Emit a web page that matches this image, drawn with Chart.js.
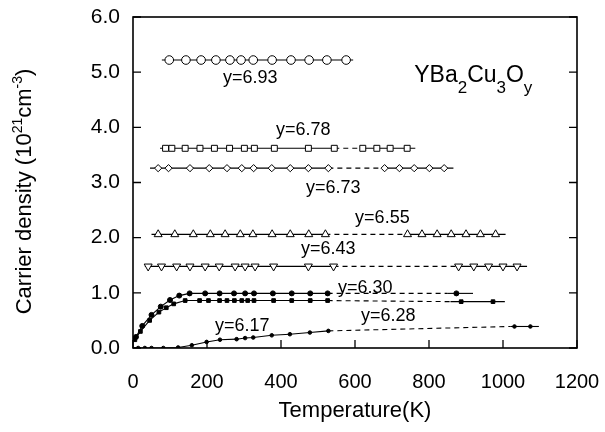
<!DOCTYPE html>
<html>
<head>
<meta charset="utf-8">
<script src="https://cdn.jsdelivr.net/npm/chart.js@4.4.0/dist/chart.umd.min.js"></script>
<style>
  html, body { margin: 0; padding: 0; background: #fff; }
</style>
</head>
<body>
<canvas id="chart" width="605" height="432"></canvas>
<script>
const FONT = '"Liberation Sans", Arial, Helvetica, sans-serif';

// x ticks (K) and y ticks (10^21 cm^-3)
const xTicks = [0, 200, 400, 600, 800, 1000, 1200];
const yTicks = [0, 1, 2, 3, 4, 5, 6];

// y=6.93
const temps693 = [98, 143, 184, 224, 262, 292, 325, 376, 427, 476, 524, 576];
const dens693  = [5.22, 5.22, 5.22, 5.22, 5.22, 5.22, 5.22, 5.22, 5.22, 5.22, 5.22, 5.22];
const span693  = [78, 595];

// y=6.78
const temps678   = [88, 105, 141, 181, 220, 261, 301, 328, 382, 474, 544];
const dens678    = [3.62, 3.62, 3.62, 3.62, 3.62, 3.62, 3.62, 3.62, 3.62, 3.62, 3.62];
const tempsHi678 = [621, 659, 695, 741];
const densHi678  = [3.62, 3.62, 3.62, 3.62];
const span678    = [73, 544, 621, 763];

// y=6.73
const temps673   = [68, 96, 154, 206, 254, 294, 326, 375, 425, 474, 528];
const dens673    = [3.26, 3.26, 3.26, 3.26, 3.26, 3.26, 3.26, 3.26, 3.26, 3.26, 3.26];
const tempsHi673 = [680, 720, 760, 801, 841];
const densHi673  = [3.26, 3.26, 3.26, 3.26, 3.26];
const span673    = [46, 528, 680, 866];

// y=6.55
const temps655   = [68, 113, 163, 209, 249, 290, 324, 376, 425, 475, 520];
const dens655    = [2.06, 2.06, 2.06, 2.06, 2.06, 2.06, 2.06, 2.06, 2.06, 2.06, 2.06];
const tempsHi655 = [742, 781, 822, 860, 900, 939, 980];
const densHi655  = [2.06, 2.06, 2.06, 2.06, 2.06, 2.06, 2.06];
const span655    = [50, 520, 742, 1007];

// y=6.43
const temps643   = [41, 77, 118, 154, 195, 233, 276, 303, 330, 380, 474, 542];
const dens643    = [1.48, 1.48, 1.48, 1.48, 1.48, 1.48, 1.48, 1.48, 1.48, 1.48, 1.48, 1.48];
const tempsHi643 = [880, 921, 961, 1000, 1038];
const densHi643  = [1.48, 1.48, 1.48, 1.48, 1.48];
const span643    = [32, 542, 880, 1065];

// y=6.30
const temps630   = [8, 25, 50, 75, 100, 125, 153, 195, 234, 273, 303, 327, 378, 429, 479, 526];
const dens630    = [0.2, 0.4, 0.6, 0.75, 0.87, 0.95, 0.99, 0.99, 0.99, 0.99, 0.99, 0.99, 0.99, 0.99, 0.99, 0.99];
const tempsHi630 = [874];
const densHi630  = [0.99];
const span630    = [0, 526, 849, 919];

// y=6.28
const temps628   = [5, 20, 45, 70, 90, 110, 141, 180, 204, 234, 254, 274, 294, 310, 327, 380, 429, 479, 526];
const dens628    = [0.15, 0.3, 0.5, 0.65, 0.73, 0.8, 0.86, 0.86, 0.86, 0.86, 0.86, 0.86, 0.86, 0.86, 0.86, 0.86, 0.86, 0.86, 0.86];
const tempsHi628 = [887, 973];
const densHi628  = [0.84, 0.84];
const span628    = [0, 526, 858, 1005];

// y=6.17
const temps617   = [14, 32, 50, 82, 122, 159, 199, 235, 280, 303, 325, 375, 424, 478, 528];
const dens617    = [0, 0, 0, 0, 0.01, 0.05, 0.11, 0.15, 0.16, 0.18, 0.19, 0.23, 0.25, 0.28, 0.31];
const tempsHi617 = [1031, 1074];
const densHi617  = [0.39, 0.39];
const span617    = [0, 528, 1021, 1097];

// in-plot labels (placed in data coordinates)
const labelText = ['y=6.93', 'y=6.78', 'y=6.73', 'y=6.55', 'y=6.43', 'y=6.30', 'y=6.28', 'y=6.17'];
const labelT    = [317, 460, 541, 674, 528, 628, 690, 295];
const labelN    = [4.90, 3.95, 2.90, 2.36, 1.80, 1.09, 0.58, 0.40];

// builds line points: start of line, markers, (dashed gap), high-T markers, end of line
function buildPoints(t, n, tHi, nHi, span) {
  const pts = [{ x: span[0], y: n[0], m: false }];
  t.forEach((x, i) => pts.push({ x: x, y: n[i], m: true }));
  let gap = -1;
  if (tHi) {
    pts.push({ x: span[1], y: n[n.length - 1], m: false });
    gap = pts.length - 1;
    pts.push({ x: span[2], y: nHi[0], m: false });
    tHi.forEach((x, i) => pts.push({ x: x, y: nHi[i], m: true }));
    pts.push({ x: span[3], y: nHi[nHi.length - 1], m: false });
  } else {
    pts.push({ x: span[1], y: n[n.length - 1], m: false });
  }
  return { pts, gap };
}

function makeSet(t, n, tHi, nHi, span, style, r, fill, rot) {
  const b = buildPoints(t, n, tHi, nHi, span);
  return {
    data: b.pts,
    showLine: true,
    borderColor: '#000',
    borderWidth: 1.1,
    pointStyle: style,
    pointRotation: rot || 0,
    pointRadius: ctx => (ctx.raw && ctx.raw.m ? r : 0),
    pointBorderWidth: 1,
    pointBorderColor: '#000',
    pointBackgroundColor: fill,
    segment: {
      borderDash: ctx => (ctx.p0DataIndex === b.gap ? [5, 4] : undefined)
    }
  };
}

const datasets = [
  makeSet(temps693, dens693, null, null, span693, 'circle', 4.3, '#fff'),
  makeSet(temps678, dens678, tempsHi678, densHi678, span678, 'rect', 4.2, '#fff'),
  makeSet(temps673, dens673, tempsHi673, densHi673, span673, 'rectRot', 3.6, '#fff'),
  makeSet(temps655, dens655, tempsHi655, densHi655, span655, 'triangle', 4.6, '#fff'),
  makeSet(temps643, dens643, tempsHi643, densHi643, span643, 'triangle', 4.6, '#fff', 180),
  makeSet(temps630, dens630, tempsHi630, densHi630, span630, 'circle', 2.5, '#000'),
  makeSet(temps628, dens628, tempsHi628, densHi628, span628, 'rect', 2.6, '#000'),
  makeSet(temps617, dens617, tempsHi617, densHi617, span617, 'circle', 1.8, '#000')
];

// draws rich text: parts = [[text, size, dy]]
function richText(c, parts, x, y) {
  let cx = x;
  parts.forEach(p => {
    c.font = p[1] + 'px ' + FONT;
    c.fillText(p[0], cx, y + p[2]);
    cx += c.measureText(p[0]).width;
  });
}

const framePlugin = {
  id: 'frame',
  afterDraw(chart) {
    const c = chart.ctx, a = chart.chartArea;
    const xs = chart.scales.x, ys = chart.scales.y;
    c.save();
    c.strokeStyle = '#000';
    c.lineWidth = 1.6;
    c.strokeRect(a.left, a.top, a.right - a.left, a.bottom - a.top);
    c.lineWidth = 1.3;
    c.beginPath();
    xTicks.forEach(v => {
      const px = xs.getPixelForValue(v);
      c.moveTo(px, a.bottom); c.lineTo(px, a.bottom - 8);
    });
    yTicks.forEach(v => {
      const py = ys.getPixelForValue(v);
      c.moveTo(a.left, py); c.lineTo(a.left + 8, py);
      c.moveTo(a.right, py); c.lineTo(a.right - 8, py);
    });
    c.stroke();

    // series labels
    c.fillStyle = '#000';
    c.font = '18px ' + FONT;
    c.textAlign = 'center';
    c.textBaseline = 'middle';
    labelText.forEach((s, i) => {
      c.fillText(s, xs.getPixelForValue(labelT[i]), ys.getPixelForValue(labelN[i]));
    });

    // compound name
    c.textAlign = 'left';
    c.textBaseline = 'alphabetic';
    richText(c, [['YBa', 23, 0], ['2', 17, 11], ['Cu', 23, 0], ['3', 17, 11], ['O', 23, 0], ['y', 17, 11]],
      xs.getPixelForValue(760), ys.getPixelForValue(4.83));

    // y axis title
    c.translate(25, (a.top + a.bottom) / 2 + 9);
    c.rotate(-Math.PI / 2);
    c.textBaseline = 'middle';
    const parts = [['Carrier density (10', 22, 0], ['21', 14, -7], ['cm', 22, 0], ['-3', 14, -7], [')', 22, 0]];
    let w = 0;
    parts.forEach(p => { c.font = p[1] + 'px ' + FONT; w += c.measureText(p[0]).width; });
    richText(c, parts, -w / 2, 0);
    c.restore();
  }
};

new Chart(document.getElementById('chart'), {
  type: 'scatter',
  data: { datasets: datasets },
  options: {
    responsive: false,
    animation: false,
    layout: { padding: { top: 17, right: 28, left: 0, bottom: 0 } },
    plugins: { legend: { display: false }, tooltip: { enabled: false } },
    scales: {
      x: {
        type: 'linear', min: 0, max: 1200,
        afterBuildTicks: s => { s.ticks = xTicks.map(v => ({ value: v })); },
        ticks: { font: { family: FONT, size: 20 }, color: '#000', padding: 22, maxRotation: 0, callback: v => String(v) },
        grid: { display: false, drawTicks: false },
        border: { display: false },
        title: { display: true, text: 'Temperature(K)', color: '#000', font: { family: FONT, size: 22 }, padding: { top: 0, bottom: 8 } },
        afterFit: s => { s.height = 84; s.paddingLeft = 0; s.paddingRight = 0; }
      },
      y: {
        type: 'linear', min: 0, max: 6,
        afterBuildTicks: s => { s.ticks = yTicks.map(v => ({ value: v })); },
        ticks: { font: { family: FONT, size: 21 }, color: '#000', padding: 13, callback: v => v.toFixed(1) },
        grid: { display: false, drawTicks: false },
        border: { display: false },
        afterFit: s => { s.width = 133; s.paddingTop = 0; s.paddingBottom = 0; }
      }
    }
  },
  plugins: [framePlugin]
});
</script>
</body>
</html>
